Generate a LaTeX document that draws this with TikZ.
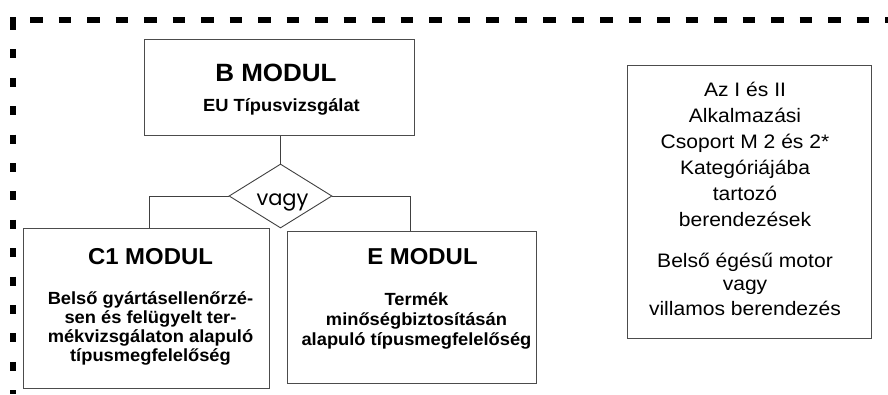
\documentclass[tikz,border=0pt]{standalone}
\usepackage{fontspec}
\setmainfont{Liberation Sans}
\newfontfamily\bfnt{Liberation Sans}[FakeStretch=1.04]
\newfontfamily\rfnt{Liberation Sans}[FakeStretch=1.08]
\newfontfamily\vfnt{Poppins}
\usetikzlibrary{shapes.geometric}
\begin{document}
\begin{tikzpicture}[x=1pt,y=-1pt,
  box/.style={draw=black!70, line width=1pt, inner sep=0pt, anchor=north west},
  conn/.style={draw=black!75, line width=0.9pt},
  border/.style={line width=6pt, black},
  ttl/.style={anchor=base, inner sep=0pt, font=\bfnt\bfseries\fontsize{23}{26}\selectfont},
  bod/.style={anchor=base, inner sep=0pt, font=\bfnt\bfseries\fontsize{17.6}{19.5}\selectfont},
  reg/.style={anchor=base, inner sep=0pt, font=\rfnt\fontsize{19.5}{26}\selectfont}]
\useasboundingbox (0,0) rectangle (888,394);
% dashed frame
\draw[border, dash pattern=on 12.7pt off 15.8pt] (30,20) -- (888,20);
\fill (10,17) rectangle (16,21);
\draw[border, dash pattern=on 9pt off 19.4pt] (13,21) -- (13,394);
% boxes
\node[box, minimum width=270pt, minimum height=96pt] (B) at (144,39) {};
\node[box, minimum width=246pt, minimum height=160pt] (C) at (23,228) {};
\node[box, minimum width=249pt, minimum height=152pt] (E) at (287,231) {};
\node[box, minimum width=244pt, minimum height=273pt] (R) at (627,65) {};
\node[diamond, draw=black!75, line width=0.9pt, aspect=1.6, inner sep=0pt,
      minimum width=103pt, minimum height=64pt] (D) at (280.5,196) {};
% connectors
\draw[conn] (B.south -| D.north) -- (D.north);
\draw[conn] (D.west) -| ([xshift=3pt]C.north);
\draw[conn] (D.east) -| ([xshift=-1.5pt]E.north);
% texts
\node[ttl, font=\bfnt\bfseries\fontsize{25}{28}\selectfont] (Bt) at (276,81) {B MODUL};
\node[bod] (Bs) at (281.5,111) {EU Típusvizsgálat};
\node[anchor=base, inner sep=0pt, font=\vfnt\fontsize{21}{24}\selectfont] (Dt) at (282.5,205) {vagy};
\node[ttl] (Ct) at (150.5,264.3) {C1 MODUL};
\node[bod] (Cs) at (150.5,304) {\begin{tabular}[t]{@{}c@{}}Belső gyártásellenőrzé-\\[-0.2pt]sen és felügyelt ter-\\[-0.2pt]mékvizsgálaton alapuló\\[-0.2pt]típusmegfelelőség\end{tabular}};
\node[ttl] (Et) at (422.5,264) {E MODUL};
\node[bod] (Es) at (416.5,305) {\begin{tabular}[t]{@{}c@{}}Termék\\[0.8pt]minőségbiztosításán\\[0.8pt]alapuló típusmegfelelőség\end{tabular}};
\node[reg] (Rt) at (745,96) {\begin{tabular}[t]{@{}c@{}}Az I és II\\Alkalmazási\\Csoport M 2 és 2*\\Kategóriájába\\tartozó\\berendezések\\[15.7pt]Belső égésű motor\\[-3.7pt]vagy\\[-1pt]villamos berendezés\end{tabular}};
\end{tikzpicture}
\end{document}
